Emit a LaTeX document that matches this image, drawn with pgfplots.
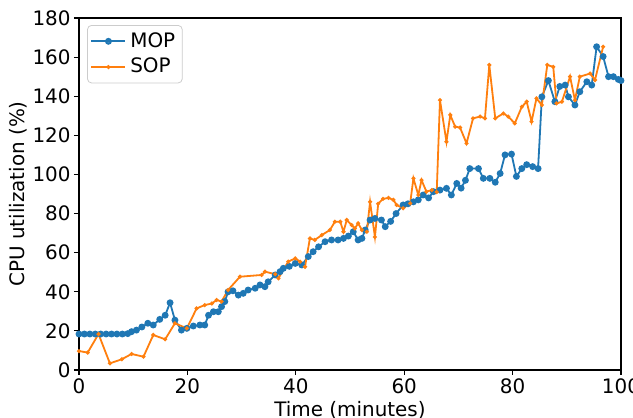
\documentclass[border=0pt]{standalone}
\usepackage{fontspec}
\setmainfont{DejaVu Sans}
\usepackage{pgfplots}
\pgfplotsset{compat=1.18}

\definecolor{mplblue}{HTML}{1F77B4}
\definecolor{mplorange}{HTML}{FF7F0E}

\begin{document}
\begin{tikzpicture}
\begin{axis}[
  scale only axis,
  width=271bp, height=176bp,
  xmin=0, xmax=100, ymin=0, ymax=180,
  xtick={0,20,...,100}, ytick={0,20,...,180},
  tick align=outside, major tick length=2.5bp,
  tick pos=left,
  axis line style={line width=0.55bp},
  every tick/.style={black, line width=0.55bp},
  /pgf/number format/assume math mode=true,
  tick label style={font=\fontsize{10}{12}\selectfont, inner sep=1.5bp},
  label style={font=\fontsize{10}{12}\selectfont},
  xlabel={Time (minutes)},
  ylabel={CPU utilization (\%)},
  xlabel style={at={(axis description cs:0.5,0)}, anchor=north, inner sep=0pt, yshift=-15.5bp},
  ylabel style={at={(axis description cs:-0.1125,0.5)}, anchor=center, inner sep=0pt},
  legend cell align=left,
  legend style={at={(axis description cs:0.015,0.98)}, anchor=north west,
    draw=black!20, rounded corners=2bp, fill=white, fill opacity=0.8, text opacity=1,
    font=\fontsize{10}{12}\selectfont, row sep=0bp, inner sep=1.5bp},
]

% MOP
\addplot[color=mplblue, line width=0.9bp, mark=*, mark size=1.25bp, mark options={solid}] coordinates {
  (0,18.4) (1,18.4) (2,18.4) (3,18.4) (4,18.4) (5,18.4) (6,18.4) (7,18.4) (8,18.4)
  (9,18.6) (9.7,19.6) (10.6,20.4) (11.6,22) (12.7,23.9) (13.7,23) (14.9,25.9)
  (15.9,28) (16.8,34.4) (17.7,25.5) (18.9,20.4) (19.9,21.3) (21.1,22.5) (22.3,23)
  (23.2,23) (23.9,28) (24.8,29.8) (25.7,29.8) (26.3,32.4) (26.9,35) (27.5,40)
  (28.4,40.5) (29.4,38.3) (30.3,39.2) (31.2,40.9) (32.5,41.8) (33.4,43.5) (34.3,42.6)
  (34.9,45.1) (36.2,48.6) (37.1,50.3) (37.7,52) (38.8,53) (39.9,54.5) (41.1,53.7)
  (42.3,58) (43.2,60.5) (44.2,63) (45.4,65.6) (46.6,66.5) (47.8,66.5) (48.8,67.3)
  (49.7,68.5) (50.6,70.7) (51.5,66.5) (52.2,67.3) (52.8,71.6) (53.7,76.7) (54.6,77.5)
  (55.8,76.7) (56.5,73.3) (57.5,76) (58.5,80) (59.8,84.4) (60.7,85) (61.7,86)
  (62.6,87) (63.5,89.5) (64.5,88) (65.4,91.2) (66.6,92) (67.8,92.9) (68.7,89.5)
  (69.7,95.4) (70.5,93) (71.3,97) (72.1,103) (73.7,103) (74.6,98) (75.8,98)
  (76.8,96) (77.7,100.5) (78.6,110) (79.8,110.4) (80.7,99) (81.7,103) (82.6,105)
  (83.7,104) (84.7,103) (85.4,139.7) (86.6,148) (87.8,137.2) (88.7,145) (89.7,145.7)
  (90.3,139.7) (91.5,135.5) (92.4,142.3) (93.7,147.4) (94.6,145.7) (95.5,165.3)
  (96.7,160.3) (97.7,150) (98.6,150) (99.5,148.6) (100,148)
};
\addlegendentry{MOP}

% SOP
\addplot[color=mplorange, line width=0.9bp, mark=*, mark size=0.5bp, mark options={solid}] coordinates {
  (0,9.7) (1.6,8.9) (3.6,18.4) (5.7,3.4) (7.9,5.5) (9.7,8.2) (11.9,6.8) (13.7,17.9)
  (15.9,15.7) (17.7,23.9) (19.9,21.3) (21.7,31.5) (23.2,33.2) (24.5,34) (25.4,35.8)
  (26.3,35) (27.5,40.9) (29.7,47.7) (33.7,48.6) (34.3,50.3) (36.2,49) (36.8,46.9)
  (38.6,55.4) (39.9,57.1) (40.8,55.4) (41.7,52.8) (42.6,67.3) (43.5,66.5) (44.8,69)
  (46.3,71.6) (47.2,75.8) (48.2,75.8) (48.8,70.7) (49.4,76.7) (50.3,74.1) (50.9,72.4)
  (51.5,75) (52.2,71.6) (53.1,70.7) (53.7,86) (54.6,68) (55.2,85) (56.1,87.5)
  (57.1,88) (58,87) (58.6,84.4) (59.8,82.7) (61.1,85.2) (61.7,98) (62.6,89.5)
  (63.2,97.1) (64.1,91.2) (65.1,92) (66,91) (66.6,138) (67.8,116.7) (68.5,130.4)
  (69.4,124.4) (70.3,124) (71.5,115.9) (72.7,128.7) (74,129.6) (74.9,128.7)
  (75.7,156) (76.8,128.7) (78.3,131.2) (79.2,129.6) (80.4,126.1) (81.7,134.6)
  (82.6,137.2) (83.5,127) (84.4,138.9) (85.4,135.5) (86.4,156) (87.5,155)
  (88.1,136.3) (89.1,137.2) (90.6,150) (91.5,138) (92.4,150) (94.3,151.6)
  (95.2,148.3) (96.7,165.3)
};
\addlegendentry{SOP}

\end{axis}
\pgfresetboundingbox
\useasboundingbox (current axis.south west) ++(-39.5bp,-24bp) rectangle ([shift={(6bp,9bp)}]current axis.north east);
\end{tikzpicture}
\end{document}
